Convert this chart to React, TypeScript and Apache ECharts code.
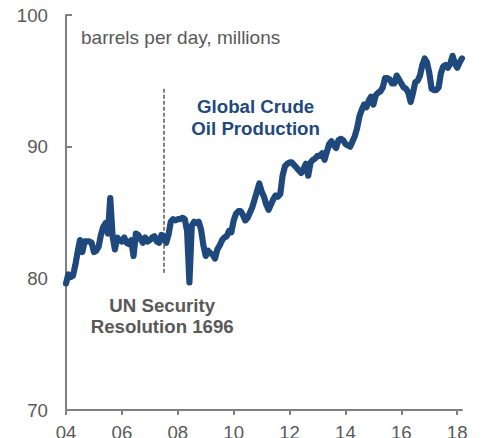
import React, { useEffect, useRef } from "react";
import * as echarts from "echarts";

// Monthly global crude oil production, million barrels per day
const years = [2004, 2005, 2006, 2007, 2008, 2009, 2010, 2011, 2012, 2013, 2014, 2015, 2016, 2017, 2018];
const production: number[][] = [
  [79.6, 80.3, 80.1, 80.2, 81.0, 82.0, 82.9, 82.0, 82.8, 82.8, 82.8, 82.7],
  [82.0, 82.1, 82.4, 83.3, 83.9, 84.2, 83.4, 86.1, 83.2, 82.2, 83.1, 82.9],
  [82.8, 83.1, 82.7, 82.6, 82.9, 81.7, 83.4, 83.3, 83.0, 82.7, 83.1, 82.8],
  [82.9, 83.1, 83.2, 82.8, 82.7, 83.3, 83.2, 82.7, 83.3, 84.3, 84.5, 84.4],
  [84.5, 84.5, 84.6, 84.5, 83.6, 79.7, 84.0, 84.3, 84.2, 84.3, 83.7, 82.5],
  [81.7, 82.1, 81.9, 81.8, 81.5, 82.2, 82.5, 82.9, 83.1, 83.2, 83.6, 83.5],
  [84.4, 84.9, 85.1, 85.1, 84.8, 84.4, 84.6, 85.0, 85.4, 86.0, 86.6, 87.2],
  [86.6, 86.2, 85.6, 85.2, 85.6, 86.0, 86.3, 86.2, 86.4, 87.8, 88.5, 88.7],
  [88.8, 88.8, 88.6, 88.4, 88.2, 88.0, 88.3, 88.7, 87.8, 88.8, 89.0, 89.1],
  [89.3, 89.3, 89.5, 89.0, 89.6, 90.2, 90.4, 90.1, 89.9, 90.5, 90.6, 90.5],
  [90.2, 90.1, 90.0, 90.4, 90.8, 91.4, 92.3, 92.8, 93.2, 93.0, 93.5, 93.8],
  [93.2, 93.9, 94.1, 94.2, 94.5, 95.2, 95.2, 95.1, 94.8, 94.8, 95.4, 95.1],
  [94.8, 94.5, 94.4, 94.1, 93.4, 94.1, 94.9, 95.0, 95.4, 96.2, 96.7, 96.4],
  [95.6, 94.4, 94.3, 94.3, 94.5, 95.6, 96.1, 96.2, 96.0, 96.3, 96.9, 96.3],
  [96.0, 96.4, 96.7],
];

const xTicks = [2004, 2006, 2008, 2010, 2012, 2014, 2016, 2018];
const yTicks = [70, 80, 90, 100];
const resolutionX = 2007.5;
const resolutionSpan = [94.4, 80.3];

const FONT = "'Liberation Sans', Arial, Helvetica, sans-serif";
const GRAY = "#595959";
const AXIS = "#808080";
const BLUE = "#1f497d";

export default function App() {
  const ref = useRef<HTMLDivElement>(null);

  useEffect(() => {
    if (!ref.current) return;
    const chart = echarts.init(ref.current, undefined, { renderer: "svg" });

    const data: [number, number][] = [];
    years.forEach((yr, yi) => {
      production[yi].forEach((v, m) => {
        data.push([yr + m / 12, v]);
      });
    });

    chart.setOption({
      animation: false,
      grid: {
        left: 66,
        right: 30,
        top: 15,
        bottom: 28,
        containLabel: false,
        outerBoundsMode: "none",
      },
      xAxis: {
        type: "value",
        min: 2004,
        max: 2018.17,
        interval: 2,
        splitLine: { show: false },
        axisLine: { show: true, lineStyle: { color: AXIS, width: 2 } },
        axisTick: {
          show: true,
          inside: false,
          length: 5,
          lineStyle: { color: AXIS, width: 2 },
          customValues: xTicks,
        },
        axisLabel: {
          color: GRAY,
          fontSize: 18.67,
          fontFamily: FONT,
          margin: 13,
          customValues: xTicks,
          formatter: (v: number) => String(Math.round(v) % 100).padStart(2, "0"),
        },
      },
      yAxis: {
        type: "value",
        min: 70,
        max: 100,
        interval: 10,
        splitLine: { show: false },
        axisLine: { show: true, lineStyle: { color: AXIS, width: 2 } },
        axisTick: {
          show: true,
          inside: true,
          length: 6,
          lineStyle: { color: AXIS, width: 2 },
          customValues: yTicks,
        },
        axisLabel: {
          color: GRAY,
          fontSize: 18.67,
          fontFamily: FONT,
          margin: 18,
          customValues: yTicks,
        },
      },
      series: [
        {
          type: "line",
          data,
          showSymbol: false,
          symbol: "none",
          lineStyle: { color: BLUE, width: 6.2, cap: "round", join: "round" },
          itemStyle: { color: BLUE },
          z: 3,
          markLine: {
            silent: true,
            symbol: ["none", "none"],
            label: { show: false },
            lineStyle: { type: [4, 2], color: GRAY, width: 1.5 },
            data: [
              [
                { coord: [resolutionX, resolutionSpan[0]] },
                { coord: [resolutionX, resolutionSpan[1]] },
              ],
            ],
            z: 2,
          },
        },
      ],
      graphic: [
        {
          type: "text",
          x: 81,
          y: 37.5,
          style: {
            text: "barrels per day, millions",
            fill: GRAY,
            font: `19px ${FONT}`,
            textAlign: "left",
            textVerticalAlign: "middle",
          },
        },
        {
          type: "text",
          x: 255.6,
          y: 117.5,
          style: {
            text: "Global Crude\nOil Production",
            fill: BLUE,
            font: `bold 18.67px ${FONT}`,
            lineHeight: 21.6,
            textAlign: "center",
            textVerticalAlign: "middle",
          },
        },
        {
          type: "text",
          x: 162.2,
          y: 316,
          style: {
            text: "UN Security\nResolution 1696",
            fill: GRAY,
            font: `bold 18.67px ${FONT}`,
            lineHeight: 21.6,
            textAlign: "center",
            textVerticalAlign: "middle",
          },
        },
      ],
    });

    return () => chart.dispose();
  }, []);

  return (
    <div
      ref={ref}
      style={{ position: "fixed", left: 0, top: 0, width: 492, height: 438, background: "#fff" }}
    />
  );
}
